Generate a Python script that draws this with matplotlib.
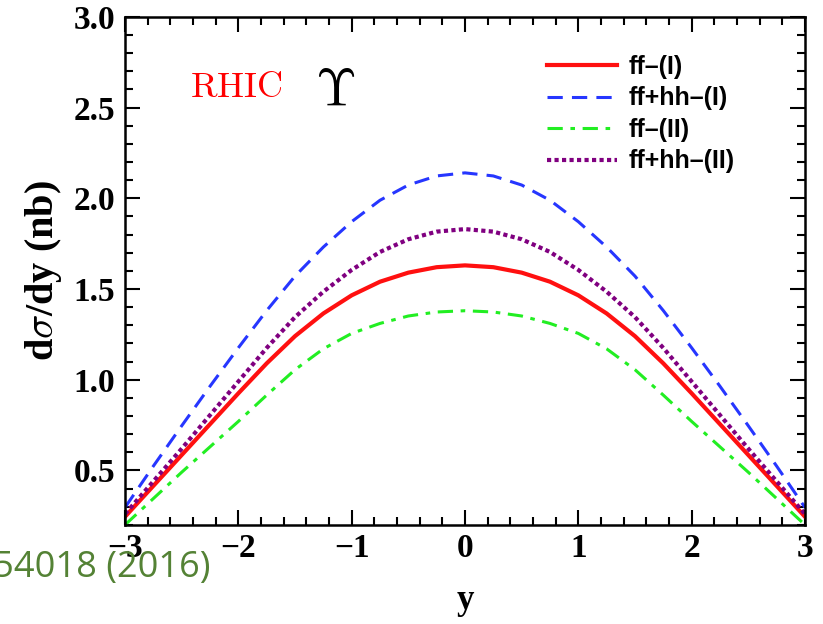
import matplotlib.pyplot as plt
from matplotlib.ticker import MultipleLocator

plt.rcParams['mathtext.fontset'] = 'cm'

# rapidity points
y = [-3.0, -2.75, -2.5, -2.25, -2.0, -1.75, -1.5, -1.25, -1.0, -0.75, -0.5, -0.25,
     0.0, 0.25, 0.5, 0.75, 1.0, 1.25, 1.5, 1.75, 2.0, 2.25, 2.5, 2.75, 3.0]

# d sigma / dy (nb)
ff_1 = [0.245, 0.415, 0.585, 0.755, 0.925, 1.09, 1.24, 1.365, 1.465, 1.54, 1.59, 1.62,
        1.63, 1.62, 1.59, 1.54, 1.465, 1.365, 1.24, 1.09, 0.925, 0.755, 0.585, 0.415, 0.245]
ffhh_1 = [0.296, 0.524, 0.746, 0.964, 1.176, 1.381, 1.571, 1.731, 1.871, 1.989, 2.073, 2.123,
          2.14, 2.123, 2.073, 1.989, 1.871, 1.731, 1.571, 1.381, 1.176, 0.964, 0.746, 0.524, 0.296]
ff_2 = [0.2, 0.345, 0.49, 0.63, 0.77, 0.915, 1.055, 1.17, 1.255, 1.31, 1.351, 1.373,
        1.38, 1.373, 1.351, 1.31, 1.255, 1.17, 1.055, 0.915, 0.77, 0.63, 0.49, 0.345, 0.2]
ffhh_2 = [0.26, 0.44, 0.62, 0.805, 0.99, 1.175, 1.345, 1.485, 1.605, 1.704, 1.774, 1.816,
          1.83, 1.816, 1.774, 1.704, 1.605, 1.485, 1.345, 1.175, 0.99, 0.805, 0.62, 0.44, 0.26]

labels = ['ff\u2013(I)', 'ff+hh\u2013(I)', 'ff\u2013(II)', 'ff+hh\u2013(II)']

fig = plt.figure(figsize=(8.23, 6.24), dpi=100)
ax = fig.add_axes([0.152, 0.159, 0.826, 0.814])

ax.plot(y, ff_1, color='#ff1010', lw=3, label=labels[0])
ax.plot(y, ffhh_1, color='#2636ff', lw=2.2, dashes=(5, 3), label=labels[1])
ax.plot(y, ff_2, color='#22ee22', lw=2.2, dashes=(5, 2.5, 1.5, 2.5), label=labels[2])
ax.plot(y, ffhh_2, color='#800080', lw=3, dashes=(1, 0.8), label=labels[3])

ax.set_xlim(-3, 3)
ax.set_ylim(0.2, 3.0)
ax.xaxis.set_major_locator(MultipleLocator(1))
ax.xaxis.set_minor_locator(MultipleLocator(0.2))
ax.yaxis.set_major_locator(MultipleLocator(0.5))
ax.yaxis.set_minor_locator(MultipleLocator(0.1))
ax.tick_params(which='both', direction='in', top=True, right=True, width=1.5)
ax.tick_params(which='major', length=11)
ax.tick_params(which='minor', length=6)
for s in ax.spines.values():
    s.set_linewidth(1.8)

for t in ax.get_xticklabels() + ax.get_yticklabels():
    t.set_fontfamily('Liberation Serif')
    t.set_fontweight('bold')
    t.set_fontsize(24)
ax.tick_params(axis='x', pad=6)
ax.tick_params(axis='y', pad=7)

ax.set_xlabel('y', fontfamily='Liberation Serif', fontweight='bold', fontsize=25, labelpad=14)
ax.set_ylabel(r'd$\sigma$/dy (nb)', fontfamily='Liberation Serif', fontweight='bold',
              fontsize=29, labelpad=7)

ax.text(-2.43, 2.56, r'$\mathrm{RHIC}$', color='red', fontsize=26)
ax.text(-1.32, 2.51, r'$\Upsilon$', color='black', fontsize=38)

leg = ax.legend(loc='upper left', frameon=False, handlelength=2.8, handletextpad=0.5,
                prop={'family': 'Liberation Sans', 'weight': 'bold', 'size': 18},
                labelspacing=0.3, borderpad=0, borderaxespad=0,
                bbox_to_anchor=(0.62, 0.925))

fig.text(0.256, 0.09, 'Phys. Rev. D 94, 054018 (2016)', color='#548235', fontsize=26,
         ha='right', va='center', fontfamily='Open Sans')

fig.savefig('out.png', dpi=100)
